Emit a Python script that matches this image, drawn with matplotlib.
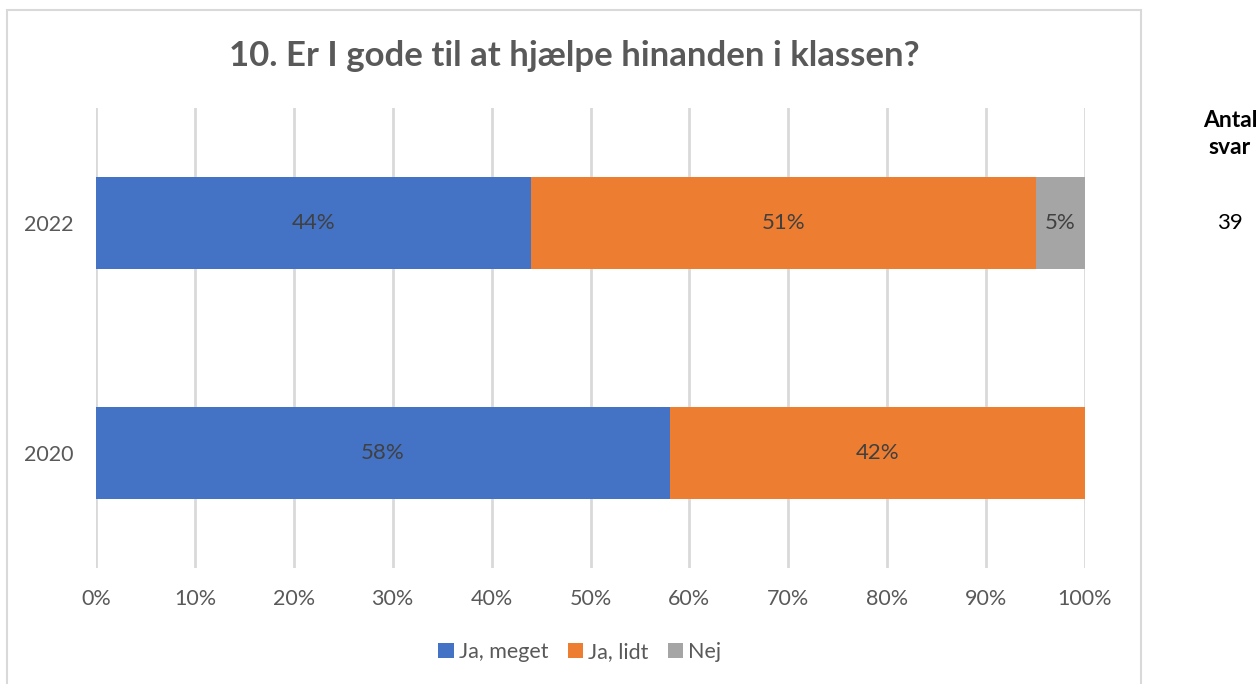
import numpy as np
import matplotlib.pyplot as plt
from matplotlib.patches import Rectangle

plt.rcParams['font.family'] = ['Lato', 'DejaVu Sans']

# data
years = ['2020', '2022']
series = ['Ja, meget', 'Ja, lidt', 'Nej']
ja_meget = [58, 44]
ja_lidt = [42, 51]
nej = [0, 5]
antal_svar = ['', '39']
colors = ['#4472C4', '#ED7D31', '#A5A5A5']

fig = plt.figure(figsize=(12.59, 6.84), dpi=100)
ax = fig.add_axes([96/1259, 116/684, 989/1259, 460/684])

y = np.arange(len(years))
left = np.zeros(len(years))
for name, vals, col in zip(series, [ja_meget, ja_lidt, nej], colors):
    vals = np.array(vals, dtype=float)
    ax.barh(y, vals, left=left, height=0.396, color=col, label=name, zorder=3)
    for yi, v, l in zip(y, vals, left):
        if v > 0:
            ax.text(l + v/2, yi, f'{v:.0f}%', ha='center', va='center',
                    fontsize=16, color='#404040', zorder=4)
    left += vals

ax.set_xlim(0, 100)
ax.set_ylim(-0.5, 1.5)
ax.set_xticks(np.arange(0, 101, 10))
ax.set_xticklabels([f'{t}%' for t in range(0, 101, 10)])
ax.set_yticks(y)
ax.set_yticklabels(years)
ax.tick_params(axis='both', length=0, labelsize=15.5, labelcolor='#595959')
ax.tick_params(axis='x', pad=15)
ax.tick_params(axis='y', pad=16)
ax.grid(axis='x', color='#D9D9D9', linewidth=2, zorder=0)
for s in ax.spines.values():
    s.set_visible(False)

# chart border
fig.patches.append(Rectangle((7/1259, -0.1), 1134/1259, 1.1 - 10/684,
                             transform=fig.transFigure, fill=False,
                             edgecolor='#D9D9D9', linewidth=1.5))

fig.text(574/1259, 1 - 56/684, '10. Er I gode til at hjælpe hinanden i klassen?',
         ha='center', va='center', fontsize=25, fontweight='bold', color='#595959')

leg = ax.legend(loc='center', bbox_to_anchor=(580/1259, 1 - 652/684),
                bbox_transform=fig.transFigure, ncol=3, frameon=False,
                fontsize=15.5, handlelength=0.7, handleheight=0.7,
                handletextpad=0.25, columnspacing=0.9)
for t in leg.get_texts():
    t.set_color('#595959')

# antal svar column
fig.text(1230/1259, 1 - 134/684, 'Antal\nsvar', ha='center', va='center',
         fontsize=16.5, fontweight='bold', color='black', linespacing=1.3)
for yi, a in zip(y, antal_svar):
    ax.text(1.147, yi, a, transform=ax.get_yaxis_transform(), ha='center',
            va='center', fontsize=16, color='black')

fig.savefig('out.png', dpi=100)
